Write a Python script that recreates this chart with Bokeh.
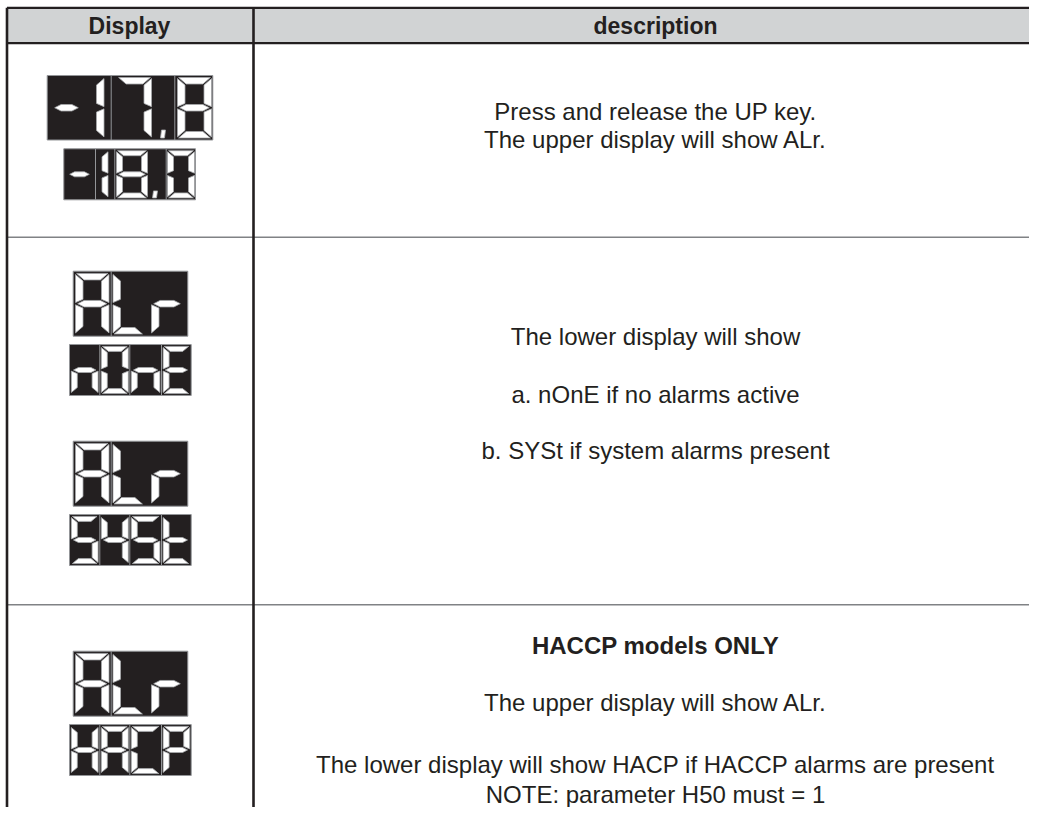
from bokeh.plotting import figure
from bokeh.models import Range1d
from bokeh.core.properties import value
from bokeh.embed import file_html
from bokeh.resources import INLINE

# ---------------- content ----------------
headers = ["Display", "description"]
upper_displays = ["-17.8", "ALr", "ALr", "ALr"]
lower_displays = ["-18.0", "nOnE", "SYSt", "HACP"]
row1_text = ["Press and release the UP key.", "The upper display will show ALr."]
row2_text = ["The lower display will show",
             "a. nOnE if no alarms active",
             "b. SYSt if system alarms present"]
row3_title = ["HACCP models ONLY"]
row3_text = ["The upper display will show ALr.",
             "The lower display will show HACP if HACCP alarms are present",
             "NOTE: parameter H50 must = 1"]

# seven-segment maps
SEG = {'-': 'g', '1': 'bc', '7': 'abc', '8': 'abcdefg', '0': 'abcdef',
       'A': 'abcefg', 'L': 'def', 'r': 'eg', 'n': 'ceg', 'O': 'abcdef',
       'E': 'adefg', 'S': 'acdfg', 'Y': 'bcfg', 't': 'defg', 'H': 'bcefg',
       'C': 'adef', 'P': 'abefg'}

# ---------------- layout (pixels) ----------------
W, H = 1029, 807
X_LEFT, X_DIV, X_RIGHT = 6.5, 253, 1040
Y_TOP, Y_HEAD, Y_BOTTOM = 7.3, 42.7, 830
ROW_SEPS = [236.7, 604.3]
DESC_X = 655
DISP_X = 129

UP_ALR = dict(x0=72.7, x1=187.3, h=65, seps=[110.7],
              spans=[(75, 108.5), (112.5, 143), (151, 182)],
              tx=7.5, ty=6.5, ym=2.2, dpo=9, dpw=5, dph=8)
LO_4 = dict(x0=69, x1=190.7, h=51, seps=[99.3, 129.3, 161],
            spans=[(70.8, 97.6), (100.8, 127.8), (130.8, 159.4), (162.6, 189.2)],
            tx=6, ty=5, ym=1.9, dpo=5, dpw=5, dph=7)
layouts_upper = [
    dict(x0=46.7, x1=212.3, h=64.5, seps=[110.7, 174.3],
         spans=[(52, 80), (69.5, 103.5), (117, 151), (177, 211)],
         tx=7.5, ty=6.5, ym=2.0, dpo=9, dpw=5, dph=8),
    UP_ALR, UP_ALR, UP_ALR]
layouts_lower = [
    dict(x0=63.3, x1=195, h=51, seps=[95, 114.3, 165.7],
         spans=[(67, 91), (80, 107.5), (116, 147), (167, 194)],
         tx=6, ty=5, ym=1.9, dpo=5, dpw=5, dph=7),
    LO_4, LO_4, LO_4]
upper_y0 = [75, 270.7, 440.7, 650.7]
lower_y0 = [148.3, 344, 514, 724]

DARK = "#231f20"
GRID_GRAY = "#808285"
HEAD_FILL = "#d1d3d4"


def parse(s):
    out = []
    for ch in s:
        if ch == '.' and out:
            out[-1][1] = True
        else:
            out.append([ch, False])
    return out


def seg_polys(segs, X0, X1, Y0, Y1, tx, ty, g=1.1):
    Ym = (Y0 + Y1) / 2
    P = {
        'a': [(X0 + g, Y0), (X1 - g, Y0), (X1 - tx - g, Y0 + ty), (X0 + tx + g, Y0 + ty)],
        'd': [(X0 + g, Y1), (X1 - g, Y1), (X1 - tx - g, Y1 - ty), (X0 + tx + g, Y1 - ty)],
        'g': [(X0 + 2 * g, Ym), (X0 + tx + g, Ym - ty / 2), (X1 - tx - g, Ym - ty / 2),
              (X1 - 2 * g, Ym), (X1 - tx - g, Ym + ty / 2), (X0 + tx + g, Ym + ty / 2)],
        'f': [(X0, Y0 + g), (X0 + tx, Y0 + ty + g), (X0 + tx, Ym - ty / 2 - g), (X0, Ym - g)],
        'e': [(X0, Ym + g), (X0 + tx, Ym + ty / 2 + g), (X0 + tx, Y1 - ty - g), (X0, Y1 - g)],
        'b': [(X1, Y0 + g), (X1 - tx, Y0 + ty + g), (X1 - tx, Ym - ty / 2 - g), (X1, Ym - g)],
        'c': [(X1, Ym + g), (X1 - tx, Ym + ty / 2 + g), (X1 - tx, Y1 - ty - g), (X1, Y1 - g)],
    }
    return [P[s] for s in segs]


p = figure(width=W, height=H, x_range=Range1d(0, W), y_range=Range1d(H, 0),
           min_border=0, toolbar_location=None, output_backend="svg",
           x_axis_type=None, y_axis_type=None)
p.grid.visible = False
p.outline_line_color = None
p.background_fill_color = "white"
p.border_fill_color = "white"

# header band
p.quad(left=[X_LEFT], right=[X_RIGHT], top=[Y_TOP], bottom=[Y_HEAD],
       fill_color=HEAD_FILL, line_color=None)

# row separators (gray)
p.segment(x0=[X_LEFT] * len(ROW_SEPS), x1=[X_RIGHT] * len(ROW_SEPS),
          y0=ROW_SEPS, y1=ROW_SEPS, line_color=GRID_GRAY, line_width=1.6)
# dark frame lines
p.segment(x0=[X_LEFT, X_LEFT], x1=[X_RIGHT, X_RIGHT], y0=[Y_TOP, Y_HEAD], y1=[Y_TOP, Y_HEAD],
          line_color=DARK, line_width=2.2)
p.segment(x0=[X_LEFT, X_DIV], x1=[X_LEFT, X_DIV], y0=[Y_TOP, Y_TOP], y1=[Y_BOTTOM, Y_BOTTOM],
          line_color=DARK, line_width=2.6)

# displays
box_l, box_r, box_t, box_b = [], [], [], []
sx0, sx1, sy0, sy1 = [], [], [], []
pxs, pys = [], []


def add_display(text, lay, y0):
    y1 = y0 + lay['h']
    box_l.append(lay['x0']); box_r.append(lay['x1']); box_t.append(y0); box_b.append(y1)
    for sx in lay['seps']:
        sx0.append(sx); sx1.append(sx); sy0.append(y0); sy1.append(y1)
    gy0, gy1 = y0 + lay['ym'], y1 - lay['ym']
    for (ch, dp), (gx0, gx1) in zip(parse(text), lay['spans']):
        for poly in seg_polys(SEG[ch], gx0, gx1, gy0, gy1, lay['tx'], lay['ty']):
            pxs.append([q[0] for q in poly]); pys.append([q[1] for q in poly])
        if dp:
            dx0 = gx1 + lay['dpo']
            dx1 = dx0 + lay['dpw']
            pxs.append([dx0 + 1, dx1, dx1 - 1, dx0])
            pys.append([gy1 - lay['dph'], gy1 - lay['dph'], gy1, gy1])


for t, lay, y0 in zip(upper_displays, layouts_upper, upper_y0):
    add_display(t, lay, y0)
for t, lay, y0 in zip(lower_displays, layouts_lower, lower_y0):
    add_display(t, lay, y0)

p.quad(left=box_l, right=box_r, top=box_t, bottom=box_b,
       fill_color=DARK, line_color="#939598", line_width=1)
p.segment(x0=sx0, x1=sx1, y0=sy0, y1=sy1, line_color="#939598", line_width=1)
p.patches(xs=pxs, ys=pys, fill_color="white", line_color="#a7a9ac", line_width=0.8)

# texts (y = visual middle of the line)
FONT = value("Liberation Sans")
p.text(x=[DISP_X, DESC_X], y=[25.5, 25.5], text=headers, text_font=FONT,
       text_font_size="23px", text_font_style="bold", text_align="center",
       text_baseline="middle", text_color=DARK)

body_text = row1_text + row2_text + row3_text
body_y = [111, 139, 336, 394, 450, 702, 764, 794]
p.text(x=[DESC_X] * len(body_text), y=body_y, text=body_text, text_font=FONT,
       text_font_size="24px", text_align="center", text_baseline="middle",
       text_color=DARK)
p.text(x=[DESC_X], y=[645], text=row3_title, text_font=FONT,
       text_font_size="24px", text_font_style="bold", text_align="center",
       text_baseline="middle", text_color=DARK)

open("out.html", "w").write(file_html(p, INLINE))
